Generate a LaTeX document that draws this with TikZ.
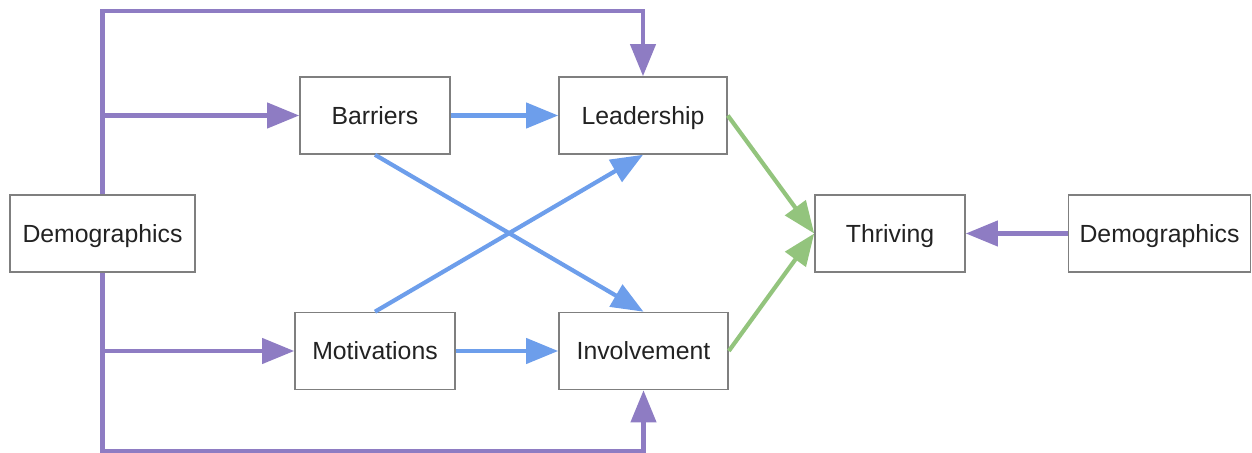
\documentclass[tikz,border=0pt]{standalone}
\usepackage{fontspec}
\setmainfont{Liberation Sans}
\usetikzlibrary{arrows.meta}

\definecolor{demopurple}{HTML}{8E7CC3}
\definecolor{factorblue}{HTML}{6D9EEB}
\definecolor{outcomegreen}{HTML}{93C47D}
\definecolor{boxgray}{HTML}{7F7F7F}
\definecolor{textgray}{HTML}{222222}

\begin{document}
\begin{tikzpicture}[
    % one unit is one pixel of the drawing, y grows downwards
    x=0.5pt, y=-0.5pt,
    box/.style={draw=boxgray, line width=0.8pt, fill=white,
        minimum height=38.5pt, inner sep=0pt, text=textgray,
        text height=8.9pt, text depth=0pt,
        font=\fontsize{12.4}{14}\selectfont},
    link/.style={line width=2.1pt, -{Triangle[length=16pt,width=12.5pt]}}
]
    \useasboundingbox (0,0) rectangle (1252,453);

    % --- Boxes ---
    \node[box, minimum width=92.5pt] (demoL) at (102.5,233.5) {Demographics};
    \node[box, minimum width=75pt]   (barr)  at (375,115.5)   {Barriers};
    \node[box, minimum width=80pt]   (moti)  at (375,351)     {Motivations};
    \node[box, minimum width=84pt]   (lead)  at (643,115.5)   {Leadership};
    \node[box, minimum width=84.5pt] (invo)  at (643.5,351)   {Involvement};
    \node[box, minimum width=75pt]   (thri)  at (890,233.5)   {Thriving};
    \node[box, minimum width=91pt]   (demoR) at (1159.5,233.5) {Demographics};

    % --- Demographics feeding everything ---
    \draw[link, demopurple] (demoL.north) -- ++(0,-183) -| (lead.north);
    \draw[link, demopurple] (demoL.north |- barr.west) -- (barr.west);
    \draw[link, demopurple] (demoL.south) -- ++(0,178) -| (invo.south);
    \draw[link, demopurple] (demoL.south |- moti.west) -- (moti.west);
    \draw[link, demopurple] (demoR.west) -- (thri.east);

    % --- Barriers and motivations ---
    \draw[link, factorblue] (barr.east) -- (lead.west);
    \draw[link, factorblue] (moti.east) -- (invo.west);
    \draw[link, factorblue] (barr.south) -- (invo.north);
    \draw[link, factorblue] (moti.north) -- (lead.south);

    % --- Into thriving ---
    \draw[link, outcomegreen] (lead.east) -- (thri.west);
    \draw[link, outcomegreen] (invo.east) -- (thri.west);
\end{tikzpicture}
\end{document}
